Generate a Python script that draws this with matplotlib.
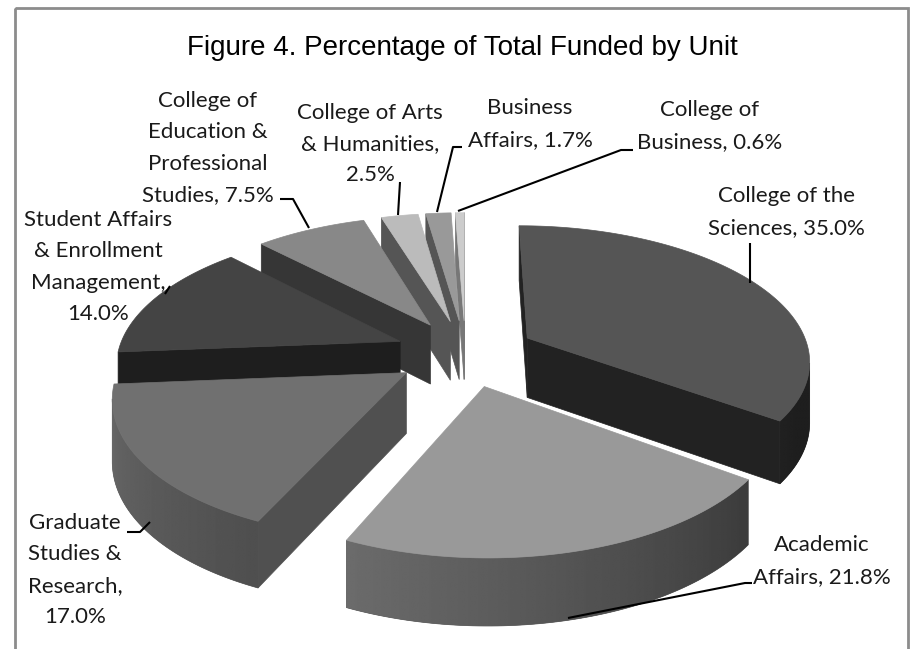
import numpy as np
import matplotlib
matplotlib.use("Agg")
import matplotlib.pyplot as plt
from matplotlib.patches import Polygon, Rectangle


# data (clockwise from 12 o'clock)
units = ["College of the\nSciences", "Academic\nAffairs", "Graduate\nStudies &\nResearch",
         "Student Affairs\n& Enrollment\nManagement", "College of\nEducation &\nProfessional\nStudies",
         "College of Arts\n& Humanities", "Business\nAffairs", "College of\nBusiness"]
pct = [35.0, 21.8, 17.0, 14.0, 7.5, 2.5, 1.7, 0.6]
pct_sep = [" ", " ", "\n", "\n", " ", "\n", " ", " "]

top_colors = ["#555555", "#999999", "#707070", "#444444", "#888888", "#bbbbbb", "#999999", "#cccccc"]
cut_colors = ["#222222", "#555555", "#505050", "#1e1e1e", "#363636", "#555555", "#555555", "#777777"]

label_pos = [(786, 212), (822, 561), (75, 570), (98, 267), (208, 148), (370, 144), (530, 124), (710, 126)]
leaders = [[(750, 243), (750, 283)],
           [(752, 583), (745, 583), (568, 618)],
           [(127, 532), (140, 532), (150, 522)],
           [(165, 294), (170, 286)],
           [(280, 199), (293, 199), (309, 228)],
           [(400, 182), (398, 215)],
           [(462, 147), (453, 147), (437, 212)],
           [(633, 150), (621, 150), (458, 211)]]

# pie geometry in pixels
X0, Y0 = 465.4, 353.0
RX, RY = 282.5, 133.7
K = 0.153          # perspective
DEPTH = 60
EXPL = 0.25


def proj(u, v, z):
    p = 1.0 / (1.0 + K * v)
    return (X0 + RX * u * p, Y0 - RY * v * p + DEPTH * z * p ** 0.6)


def area(pts):
    x = np.array([q[0] for q in pts])
    y = np.array([q[1] for q in pts])
    return 0.5 * np.sum(x * np.roll(y, -1) - np.roll(x, -1) * y)


def gray(hexcol):
    return int(hexcol[1:3], 16)


def hexg(g):
    g = int(max(0, min(255, g)))
    return "#%02x%02x%02x" % (g, g, g)


fig = plt.figure(figsize=(9.13, 6.49), dpi=100)
ax = fig.add_axes([0, 0, 1, 1])
ax.set_xlim(0, 913)
ax.set_ylim(649, 0)
ax.axis("off")

ax.add_patch(Rectangle((15, 8), 893, 700, fill=False, edgecolor="#8c8c8c", lw=2))

total = sum(pct)
bounds = np.concatenate([[0], np.cumsum(pct)]) / total * 2 * np.pi

slices = []
for i in range(len(pct)):
    t1, t2 = bounds[i], bounds[i + 1]
    mid = (t1 + t2) / 2
    du, dv = EXPL * np.sin(mid), EXPL * np.cos(mid)
    n = max(3, int(np.degrees(t2 - t1)) + 2)
    ths = np.linspace(t1, t2, n)
    rim = [(du + np.sin(t), dv + np.cos(t)) for t in ths]

    top = [proj(du, dv, 0)] + [proj(u, v, 0) for u, v in rim]
    sgn = np.sign(area(top))

    # outer wall: front-facing pieces, shade depends on angle
    vis = []
    for j in range(n - 1):
        quad = [proj(*rim[j], 0), proj(*rim[j], 1), proj(*rim[j + 1], 1), proj(*rim[j + 1], 0)]
        vis.append(np.sign(area(quad)) == sgn)
    walls = []
    j = 0
    while j < len(vis):
        if not vis[j]:
            j += 1
            continue
        s = j
        while j < len(vis) and vis[j]:
            j += 1
        upper = [proj(*rim[k], 0) for k in range(s, j + 1)]
        lower = [proj(*rim[k], 1) for k in range(j, s - 1, -1)]
        xs = [(upper[k][0] + upper[k + 1][0]) / 2 for k in range(len(upper) - 1)]
        degs = np.degrees((ths[s:j] + ths[s + 1:j + 1]) / 2)
        vals = gray(top_colors[i]) * np.clip(0.39 + 0.004 * (degs - 126), 0.36, 0.97)
        walls.append((upper + lower, np.array(xs), vals))

    # radial cut faces
    c1 = [proj(*rim[0], 0), proj(du, dv, 0), proj(du, dv, 1), proj(*rim[0], 1)]
    c2 = [proj(du, dv, 0), proj(*rim[-1], 0), proj(*rim[-1], 1), proj(du, dv, 1)]
    cuts = [c for c in (c1, c2) if np.sign(area(c)) == sgn]
    slices.append((dv, walls, cuts, top, i))

# paint far slices first
for dv, walls, cuts, top, i in sorted(slices, key=lambda s: -s[0]):
    for outline, xs, vals in walls:
        base = hexg(np.median(vals))
        patch = Polygon(outline, closed=True, facecolor=base, edgecolor=base, lw=0.5, zorder=1)
        ax.add_patch(patch)
        pts = np.array(outline)
        x0, x1 = pts[:, 0].min(), pts[:, 0].max()
        y0, y1 = pts[:, 1].min(), pts[:, 1].max()
        order = np.argsort(xs)
        grid = np.linspace(x0, x1, 200)
        row = np.interp(grid, xs[order], vals[order])
        im = ax.imshow(row[None, :], extent=[x0, x1, y1, y0], cmap="gray", vmin=0, vmax=255,
                       aspect="auto", interpolation="bilinear", zorder=1)
        im.set_clip_path(patch)
    for c in cuts:
        ax.add_patch(Polygon(c, closed=True, facecolor=cut_colors[i], edgecolor=cut_colors[i], lw=0.5, zorder=1))
    ax.add_patch(Polygon(top, closed=True, facecolor=top_colors[i], edgecolor=top_colors[i], lw=0.5, zorder=1))

ax.set_xlim(0, 913)
ax.set_ylim(649, 0)

for i in range(len(pct)):
    txt = units[i] + "," + pct_sep[i] + "%.1f%%" % pct[i]
    ax.text(label_pos[i][0], label_pos[i][1], txt, ha="center", va="center", multialignment="center",
            family="Lato", fontsize=16, color="#1a1a1a", linespacing=1.7)
    xs, ys = zip(*leaders[i])
    ax.plot(xs, ys, color="black", lw=1.5, solid_capstyle="butt")

ax.text(462, 55, "Figure 4. Percentage of Total Funded by Unit", ha="center", va="baseline",
        family="Liberation Sans", fontsize=20, color="black")

fig.savefig("out.png", dpi=100)
